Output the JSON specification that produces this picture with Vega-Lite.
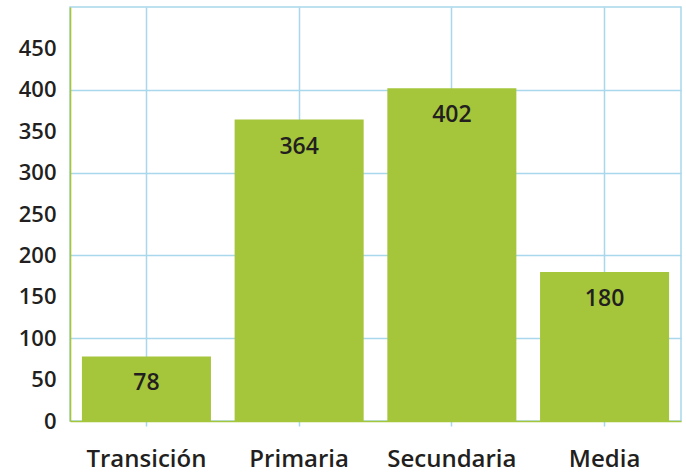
{
  "$schema": "https://vega.github.io/schema/vega-lite/v6.json",
  "width": 611,
  "height": 414,
  "autosize": "none",
  "padding": {"left": 70, "top": 7, "right": 5, "bottom": 55},
  "config": {
    "view": {"stroke": "#a9d7ec", "strokeWidth": 1.5},
    "font": "Open Sans"
  },
  "data": {
    "values": [
      {"nivel": "Transición", "valor": 78},
      {"nivel": "Primaria", "valor": 364},
      {"nivel": "Secundaria", "valor": 402},
      {"nivel": "Media", "valor": 180}
    ]
  },
  "encoding": {
    "x": {
      "field": "nivel",
      "type": "nominal",
      "sort": null,
      "scale": {"paddingInner": 0.155, "paddingOuter": 0.078},
      "axis": {
        "title": null,
        "labelAngle": 0,
        "labelFont": "Open Sans",
        "labelFontSize": 24,
        "labelFontWeight": 600,
        "labelColor": "#231f20",
        "labelPadding": 21,
        "grid": true,
        "gridColor": "#a9d7ec",
        "gridWidth": 1.5,
        "bandPosition": 0.5,
        "ticks": true,
        "tickColor": "#a9d7ec",
        "tickSize": 5,
        "tickWidth": 1.5,
        "domainColor": "#a5c63b",
        "domainWidth": 1.6
      }
    }
  },
  "resolve": {"axis": {"y": "independent"}},
  "layer": [
    {
      "mark": {"type": "text", "opacity": 0, "text": ""},
      "encoding": {
        "y": {
          "field": "valor",
          "type": "quantitative",
          "scale": {"domain": [0, 500], "nice": false},
          "axis": {
            "orient": "left",
            "title": null,
            "values": [100, 200, 300, 400],
            "grid": true,
            "gridColor": "#a9d7ec",
            "gridWidth": 1.5,
            "labels": false,
            "ticks": false,
            "domain": false
          }
        }
      }
    },
    {
      "mark": {"type": "bar", "color": "#a5c63b"},
      "encoding": {
        "y": {
          "field": "valor",
          "type": "quantitative",
          "scale": {"domain": [0, 500], "nice": false},
          "axis": {
            "orient": "left",
            "title": null,
            "values": [0, 50, 100, 150, 200, 250, 300, 350, 400, 450],
            "grid": false,
            "ticks": false,
            "labelFont": "Open Sans",
            "labelFontSize": 22,
            "labelFontWeight": 600,
            "labelColor": "#231f20",
            "labelPadding": 14,
            "domainColor": "#a5c63b",
            "domainWidth": 1.6
          }
        }
      }
    },
    {
      "mark": {"type": "text", "baseline": "middle", "dy": 27, "fontSize": 23, "fontWeight": 600, "color": "#231f20", "font": "Open Sans"},
      "encoding": {
        "y": {"field": "valor", "type": "quantitative", "axis": null},
        "text": {"field": "valor", "type": "quantitative"}
      }
    }
  ]
}
